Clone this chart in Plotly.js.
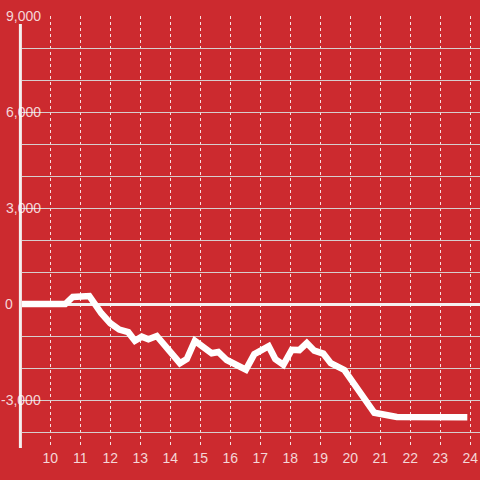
<!DOCTYPE html>
<html>
<head>
<meta charset="utf-8">
<script src="https://cdn.plot.ly/plotly-3.0.1.min.js"></script>
<style>html,body{margin:0;padding:0;background:#cc2a2f;}#chart{width:480px;height:480px;}</style>
</head>
<body>
<div id="chart"></div>
<script>
const hours = [9.0, 10.5, 10.75, 11.3, 11.7, 12.0, 12.3, 12.6, 12.82, 13.05, 13.27, 13.55, 14.32, 14.55, 14.82, 15.15, 15.38, 15.6, 15.88, 16.52, 16.8, 17.28, 17.5, 17.77, 18.05, 18.3, 18.55, 18.8, 19.1, 19.35, 19.8, 20.8, 21.55, 23.9];
const values = [0, 0, 220, 250, -290, -600, -800, -880, -1150, -1020, -1100, -1000, -1850, -1720, -1150, -1380, -1540, -1500, -1750, -2050, -1570, -1320, -1720, -1900, -1430, -1440, -1220, -1460, -1550, -1850, -2060, -3400, -3530, -3540];
const xTicks = [10, 11, 12, 13, 14, 15, 16, 17, 18, 19, 20, 21, 22, 23, 24];
const yLabelValues = [9000, 6000, 3000, 0, -3000];
const yLabelTexts = ['9,000', '6,000', '3,000', '0', '-3,000'];

const bg = '#cc2a2f';
const labelColor = 'rgba(255,255,255,0.82)';
const font = {family: 'Liberation Sans, Arial, sans-serif', size: 14, color: labelColor};

const annotations = yLabelValues.map((v, i) => ({
  xref: 'paper', yref: 'y',
  x: v === 0 ? -0.015 : 0.046, y: v,
  xanchor: 'right', yanchor: 'middle',
  text: yLabelTexts[i], showarrow: false, font: font
}));

const layout = {
  width: 480, height: 480,
  margin: {l: 22, r: 0, t: 16, b: 32, pad: 0},
  paper_bgcolor: bg, plot_bgcolor: bg,
  showlegend: false,
  font: font,
  xaxis: {
    range: [9.057, 24.323],
    tickvals: xTicks, ticktext: xTicks.map(String),
    showgrid: true, gridcolor: 'rgba(255,255,255,0.85)', griddash: 'dot', gridwidth: 1,
    zeroline: false, showline: false, ticks: '',
    tickfont: font, fixedrange: true
  },
  yaxis: {
    range: [-4500, 9000],
    dtick: 1000, tick0: 0,
    showticklabels: false,
    showgrid: true, gridcolor: 'rgba(215,215,215,0.95)', gridwidth: 1,
    zeroline: true, zerolinecolor: '#f4f0f0', zerolinewidth: 3,
    showline: false, ticks: '', fixedrange: true
  },
  shapes: [{
    type: 'line', xref: 'paper', yref: 'paper',
    x0: -0.0035, x1: -0.0035, y0: 0, y1: 0.9815,
    line: {color: '#f4f0f0', width: 3}, layer: 'above'
  }],
  annotations: annotations
};

Plotly.newPlot('chart', [{
  x: hours, y: values, type: 'scatter', mode: 'lines',
  line: {color: '#ffffff', width: 6.5},
  cliponaxis: true, hoverinfo: 'skip'
}], layout, {staticPlot: true, displayModeBar: false});
</script>
</body>
</html>
